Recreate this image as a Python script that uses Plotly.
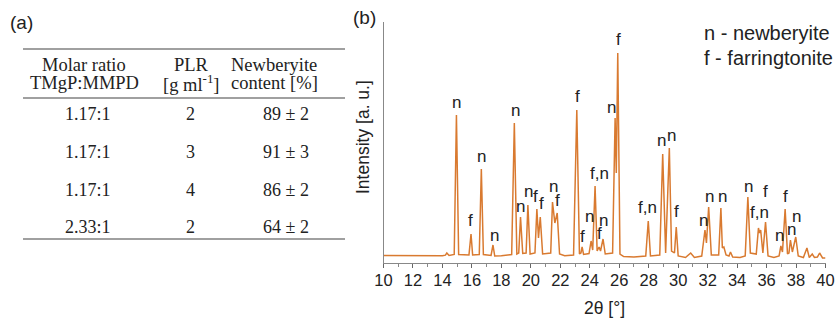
import plotly.graph_objects as go

# ---------------- data ----------------
# Table (a)
table_header_1 = ["Molar ratio", "PLR", "Newberyite"]
table_header_2 = ["TMgP:MMPD", "[g ml<sup>-1</sup>]", "content [%]"]
molar_ratio = ["1.17:1", "1.17:1", "1.17:1", "2.33:1"]
plr = ["2", "3", "4", "2"]
newberyite_content = ["89 ± 2", "91 ± 3", "86 ± 2", "64 ± 2"]

# XRD pattern (b): points
two_theta = [
    10.0, 11.0, 12.0, 13.0, 14.0, 14.2, 14.3, 14.45, 14.8, 14.95, 15.1,
    15.8, 15.94, 16.05, 16.5, 16.64, 16.78, 17.3, 17.43, 17.55, 18.0,
    18.7, 18.88, 19.05, 19.18, 19.30, 19.45, 19.68, 19.80, 19.95,
    20.28, 20.41, 20.52, 20.64, 20.8, 21.35, 21.47, 21.63, 21.79, 21.95,
    22.3, 22.9, 23.12, 23.3, 23.4, 23.48, 23.58, 23.95, 24.09, 24.2,
    24.36, 24.5, 24.63, 24.73, 24.90, 25.05, 25.55, 25.72, 25.8, 25.90,
    26.05, 26.3, 27.0, 27.8, 27.97, 28.12, 28.75, 28.95, 29.15, 29.40,
    29.55, 29.75, 29.87, 30.0, 30.5, 30.85, 31.1, 31.6, 31.82, 31.92,
    32.07, 32.25, 32.75, 32.90, 33.0, 33.1, 33.25, 33.45, 33.55, 33.7,
    34.2, 34.55, 34.73, 34.9, 35.3, 35.45, 35.52, 35.6, 35.75, 35.93,
    36.1, 36.5, 36.85, 36.97, 37.08, 37.26, 37.42, 37.52, 37.62, 37.75,
    37.98, 38.15, 38.5, 38.74, 38.9, 39.1, 39.25, 39.45, 39.6, 39.8, 40.0,
]
intensity = [
    75, 73, 72, 70, 72, 78, 100, 75, 85, 1480, 85,
    80, 290, 80, 85, 940, 85, 75, 180, 70, 72,
    85, 1400, 90, 100, 460, 95, 100, 580, 90,
    100, 540, 250, 460, 90, 100, 610, 400, 500, 90,
    72, 80, 1530, 90, 100, 160, 85, 95, 220, 130,
    770, 120, 160, 120, 240, 90, 100, 1450, 900, 2100,
    90, 65, 60, 70, 420, 70, 80, 1090, 100, 1150,
    120, 100, 360, 70, 55, 100, 55, 70, 330, 200,
    560, 80, 80, 550, 150, 160, 80, 70, 110, 60,
    55, 70, 660, 100, 90, 350, 300, 330, 100, 410,
    70, 55, 70, 170, 110, 540, 90, 100, 230, 110,
    260, 70, 55, 150, 55, 90, 55, 60, 100, 50, 50,
]

# Peak labels (n - newberyite, f - farringtonite)
label_text = [
    "n", "f", "n", "n", "n", "n", "n", "f", "f", "n", "f",
    "f", "f", "n", "f,n", "f", "n", "n", "f",
    "f,n", "n", "n", "f", "n", "n", "n", "n", "f,n", "f",
    "n", "f", "n", "n",
]
label_2theta = [
    14.97, 15.92, 16.67, 17.52, 18.93, 19.31, 19.86, 20.35, 20.74, 21.53, 21.82,
    23.15, 23.54, 23.97, 24.69, 24.69, 24.96, 25.49, 25.94,
    27.95, 28.88, 29.52, 29.90, 31.71, 32.10, 33.00, 34.76, 35.51, 35.96,
    36.87, 37.27, 37.66, 38.05,
]
label_int = [
    1603, 423, 1063, 280, 1530, 570, 713, 663, 597, 763, 630,
    1663, 263, 463, 897, 297, 430, 1557, 2237,
    553, 1223, 1280, 520, 430, 670, 663, 763, 507, 713,
    280, 663, 337, 463,
]

legend_lines = ["n - newberyite", "f - farringtonite"]
x_tick_vals = list(range(10, 41, 2))

# ---------------- figure ----------------
W, H = 837, 321
def px(x):
    return x / W
def py(y):
    return 1 - y / H

TRACE_COLOR = "#d97a30"
TEXT_COLOR = "#222222"
SANS = "Liberation Sans, Arial, sans-serif"
SERIF = "Liberation Serif, Times New Roman, serif"

fig = go.Figure()
fig.add_trace(go.Scatter(
    x=two_theta, y=intensity, mode="lines",
    line=dict(color=TRACE_COLOR, width=1.5),
    hoverinfo="skip", showlegend=False,
))

annotations = []

def paper_text(x, y, text, family, size, xanchor="center", angle=0):
    annotations.append(dict(
        x=px(x), y=py(y), xref="paper", yref="paper", text=text,
        showarrow=False, xanchor=xanchor, yanchor="middle", textangle=angle,
        font=dict(family=family, size=size, color=TEXT_COLOR),
    ))

# peak labels
for t, xv, yv in zip(label_text, label_2theta, label_int):
    annotations.append(dict(
        x=xv, y=yv, xref="x", yref="y", text=t, showarrow=False,
        font=dict(family=SANS, size=17, color=TEXT_COLOR),
        xanchor="center", yanchor="middle",
    ))

# legend-like text
for i, t in enumerate(legend_lines):
    paper_text(702, 33 + 25 * i, t, SANS, 20, xanchor="left")

# axis titles and panel labels
paper_text(363, 137, "Intensity [a. u.]", SANS, 17.5, angle=-90)
paper_text(604.5, 308, "2θ [°]", SANS, 17.5)
paper_text(21, 22, "(a)", SANS, 19)
paper_text(364, 17, "(b)", SANS, 19)

# table
header_cx = [84, 191, 274]
data_cx = [88, 190, 286]
for cx, t1, t2 in zip(header_cx, table_header_1, table_header_2):
    paper_text(cx, 65, t1, SERIF, 18.5)
    paper_text(cx, 83, t2, SERIF, 18.5)
row_y = [114, 152, 190, 227]
for ry, a, b, c in zip(row_y, molar_ratio, plr, newberyite_content):
    for cx, t in zip(data_cx, [a, b, c]):
        paper_text(cx, ry, t, SERIF, 18)

shapes = []
for ly in [49, 98, 239]:
    shapes.append(dict(type="line", xref="paper", yref="paper",
                       x0=px(23), x1=px(345), y0=py(ly), y1=py(ly),
                       line=dict(color="#808080", width=1.6)))

fig.update_layout(
    width=W, height=H,
    margin=dict(l=0, r=0, t=0, b=0, autoexpand=False),
    paper_bgcolor="white", plot_bgcolor="white",
    annotations=annotations, shapes=shapes,
    xaxis=dict(
        domain=[px(383.5), px(825.5)], range=[10, 40], automargin=False,
        tickvals=x_tick_vals, ticks="outside", ticklen=4, tickwidth=1,
        tickcolor="#666666", showline=True, linecolor="#888888", linewidth=1,
        showgrid=False, zeroline=False, ticklabelstandoff=-2,
        tickfont=dict(family=SANS, size=16.5, color=TEXT_COLOR),
        minor=dict(dtick=1, ticks="outside", ticklen=3, tickcolor="#888888", showgrid=False),
        fixedrange=True,
    ),
    yaxis=dict(
        domain=[py(263), py(22)], range=[0, 2410], automargin=False,
        showticklabels=False, ticks="", showline=True, linecolor="#888888",
        linewidth=1, showgrid=False, zeroline=False, fixedrange=True,
    ),
)

fig.write_html("out.html")
